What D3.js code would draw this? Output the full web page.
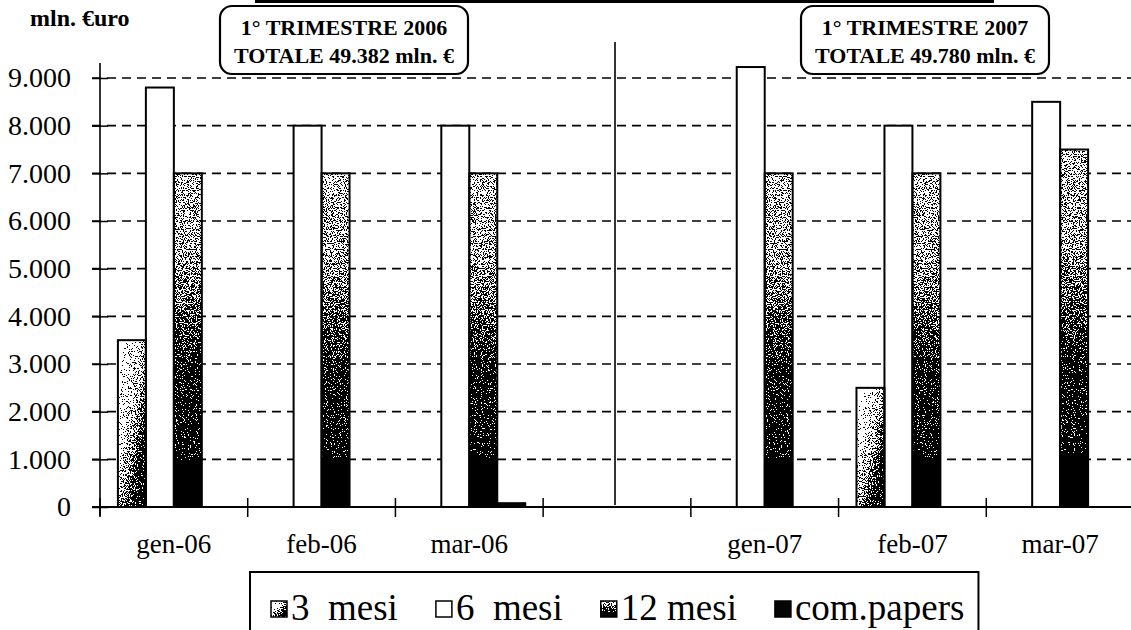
<!DOCTYPE html>
<html><head><meta charset="utf-8">
<script src="https://cdn.jsdelivr.net/npm/d3@7"></script>
<style>body{margin:0;background:#fff}svg{display:block}
text{font-family:"Liberation Serif","DejaVu Serif",serif;}
</style>
</head><body>
<svg id="c" width="1131" height="630"></svg>
<script>
// ---- data ----
const categories = ["gen-06","feb-06","mar-06","","gen-07","feb-07","mar-07"];
const seriesNames = ["3  mesi","6  mesi","12 mesi","com.papers"];
const mesi3     = [3500, 0,    0,    null, 0,    2500, 0];
const mesi6     = [8800, 8000, 8000, null, 9230, 8000, 8500];
const mesi12    = [7000, 7000, 7000, null, 7000, 7000, 7500];
const comPapers = [0,    0,    80,   null, 0,    0,    0];
const yTicks = [0,1000,2000,3000,4000,5000,6000,7000,8000,9000];
const yUnit = "mln. €uro";
const boxTitles = ["1° TRIMESTRE 2006","1° TRIMESTRE 2007"];
const boxTotals = ["TOTALE  49.382 mln. €","TOTALE  49.780 mln. €"];

const seriesValues = [mesi3, mesi6, mesi12, comPapers];
const fills = ["url(#g3)","#fff","url(#g12)","#050505"];
const grainy = [true, false, true, false];

const svg = d3.select("#c");
const W = 1131, H = 630;
const serif = "Liberation Serif, DejaVu Serif, serif";

// gradients
const defs = svg.append("defs");
const g3 = defs.append("linearGradient").attr("id","g3").attr("x1",0).attr("y1",0).attr("x2",1).attr("y2",1);
[[0,"#ffffff"],[0.3,"#eeeeee"],[0.55,"#9a9a9a"],[0.75,"#2a2a2a"],[1,"#0a0a0a"]].forEach(s=>g3.append("stop").attr("offset",s[0]).attr("stop-color",s[1]));
const g12 = defs.append("linearGradient").attr("id","g12").attr("x1",0).attr("y1",0).attr("x2",0).attr("y2",1);
[[0,"#b4b4b4"],[0.28,"#999"],[0.45,"#555"],[0.6,"#1e1e1e"],[1,"#0a0a0a"]].forEach(s=>g12.append("stop").attr("offset",s[0]).attr("stop-color",s[1]));

// stipple (dither) filter to imitate the printed screen
const f = defs.append("filter").attr("id","grain").attr("x","0%").attr("y","0%").attr("width","100%").attr("height","100%")
  .attr("color-interpolation-filters","sRGB");
f.append("feTurbulence").attr("type","fractalNoise").attr("baseFrequency",0.85).attr("numOctaves",2).attr("seed",7).attr("result","noise");
f.append("feColorMatrix").attr("in","noise").attr("type","matrix")
  .attr("values","1 0 0 0 0  1 0 0 0 0  1 0 0 0 0  0 0 0 0 1").attr("result","gn");
const ct = f.append("feComponentTransfer").attr("in","gn").attr("result","gs");
["feFuncR","feFuncG","feFuncB"].forEach(fn=>ct.append(fn).attr("type","linear").attr("slope",3.2).attr("intercept",-1.1));
f.append("feComposite").attr("in","SourceGraphic").attr("in2","gs").attr("operator","arithmetic")
  .attr("k1",0).attr("k2",1).attr("k3",0.9).attr("k4",-0.47).attr("result","sum");
const th = f.append("feComponentTransfer").attr("in","sum").attr("result","th");
["feFuncR","feFuncG","feFuncB"].forEach(fn=>th.append(fn).attr("type","discrete").attr("tableValues","0 1"));
f.append("feComposite").attr("in","th").attr("in2","SourceGraphic").attr("operator","in");

// scales
const x0 = d3.scaleBand().domain(d3.range(categories.length)).range([100, 1134]);
const x1 = d3.scaleBand().domain(d3.range(seriesNames.length)).range([0, x0.bandwidth()]).paddingOuter(0.64);
const y = d3.scaleLinear().domain([0, 9000]).range([507, 78]);
const fmt = d3.formatLocale({decimal:",", thousands:".", grouping:[3], currency:["","€"]}).format(",");

// gridlines
svg.append("g").selectAll("line").data(yTicks.filter(d=>d>0)).join("line")
  .attr("x1",92).attr("x2",W).attr("y1",d=>y(d)).attr("y2",d=>y(d))
  .attr("stroke","#000").attr("stroke-width",1.6).attr("stroke-dasharray","9,6");

// y axis
const yAxis = svg.append("g").attr("transform","translate(100,0)")
  .call(d3.axisLeft(y).tickValues(yTicks).tickFormat(fmt).tickSize(8).tickPadding(21));
yAxis.attr("font-family",null);
yAxis.select(".domain").remove();
yAxis.selectAll(".tick line").attr("x2",8).attr("x1",-8).attr("stroke","#000").attr("stroke-width",1.5);
yAxis.selectAll("text").style("font-family",serif).attr("font-size",28).attr("fill","#000");
svg.append("line").attr("x1",100).attr("x2",100).attr("y1",63).attr("y2",516).attr("stroke","#000").attr("stroke-width",1.6);

// separator
svg.append("line").attr("x1",x0(3)+x0.bandwidth()/2-2).attr("x2",x0(3)+x0.bandwidth()/2-2)
  .attr("y1",42).attr("y2",505).attr("stroke","#000").attr("stroke-width",1.6);

// bars
const groups = svg.append("g").selectAll("g").data(categories.map((c,i)=>i).filter(i=>categories[i]!=="")).join("g")
  .attr("transform",i=>`translate(${x0(i)},0)`);
groups.selectAll("rect").data(i=>seriesValues.map((s,k)=>({k, v:s[i]})).filter(d=>d.v>0)).join("rect")
  .attr("x",d=>x1(d.k)).attr("width",x1.bandwidth())
  .attr("y",d=>y(d.v)).attr("height",d=>y(0)-y(d.v))
  .attr("fill",d=>fills[d.k]).attr("filter",d=>grainy[d.k]?"url(#grain)":null);
groups.selectAll("rect.o").data(i=>seriesValues.map((s,k)=>({k, v:s[i]})).filter(d=>d.v>0)).join("rect")
  .attr("class","o")
  .attr("x",d=>x1(d.k)).attr("width",x1.bandwidth())
  .attr("y",d=>y(d.v)).attr("height",d=>y(0)-y(d.v))
  .attr("fill","none").attr("stroke","#000").attr("stroke-width",2);

// x axis
svg.append("line").attr("x1",92).attr("x2",W).attr("y1",y(0)).attr("y2",y(0)).attr("stroke","#000").attr("stroke-width",2);
svg.append("g").selectAll("line").data(d3.range(categories.length+1)).join("line")
  .attr("x1",i=>i<categories.length?x0(i):x0.range()[1]).attr("x2",i=>i<categories.length?x0(i):x0.range()[1])
  .attr("y1",498).attr("y2",517).attr("stroke","#000").attr("stroke-width",1.5);
const xAxis = svg.append("g").attr("transform",`translate(0,${y(0)})`)
  .call(d3.axisBottom(x0).tickValues(d3.range(categories.length).filter(i=>categories[i]!==""))
    .tickFormat(i=>categories[i]).tickSize(0).tickPadding(27));
xAxis.attr("font-family",null);
xAxis.select(".domain").remove();
xAxis.selectAll("text").style("font-family",serif).attr("font-size",27).attr("fill","#000");

// unit label
svg.append("text").attr("x",30).attr("y",26).style("font-family",serif).attr("font-weight","bold")
  .attr("font-size",24).text(yUnit);

// top line
svg.append("line").attr("x1",255).attr("x2",994).attr("y1",1.5).attr("y2",1.5).attr("stroke","#000").attr("stroke-width",3);

// boxes
const boxes = [{x:220, t:boxTitles[0], s:boxTotals[0]},{x:801, t:boxTitles[1], s:boxTotals[1]}];
boxes.forEach(b=>{
  const g = svg.append("g").attr("transform",`translate(${b.x},6)`);
  g.append("rect").attr("width",248).attr("height",68).attr("rx",12).attr("fill","#fff")
    .attr("stroke","#000").attr("stroke-width",2.2);
  g.append("text").attr("x",124).attr("y",29).attr("text-anchor","middle").style("font-family",serif)
    .attr("font-weight","bold").attr("font-size",22).text(b.t);
  g.append("text").attr("x",124).attr("y",57).attr("text-anchor","middle").style("font-family",serif)
    .attr("font-weight","bold").attr("font-size",22).text(b.s);
});

// legend
const lg = svg.append("g");
const lbox = lg.append("rect").attr("x",250).attr("y",572).attr("height",80)
  .attr("fill","#fff").attr("stroke","#000").attr("stroke-width",2);
let lx = 271;
seriesNames.forEach((n,k)=>{
  lg.append("rect").attr("x",lx).attr("y",601).attr("width",16).attr("height",16)
    .attr("fill",fills[k]).attr("filter",grainy[k]?"url(#grain)":null);
  lg.append("rect").attr("x",lx).attr("y",601).attr("width",16).attr("height",16)
    .attr("fill","none").attr("stroke","#000").attr("stroke-width",1.5);
  const t = lg.append("text").attr("x",lx+20).attr("y",620).style("font-family",serif)
    .attr("font-size",37).style("white-space","pre").text(n);
  lx += 20 + t.node().getComputedTextLength() + 38;
});
lbox.attr("width", lx - 38 + 14 - 250);
</script>
</body></html>
